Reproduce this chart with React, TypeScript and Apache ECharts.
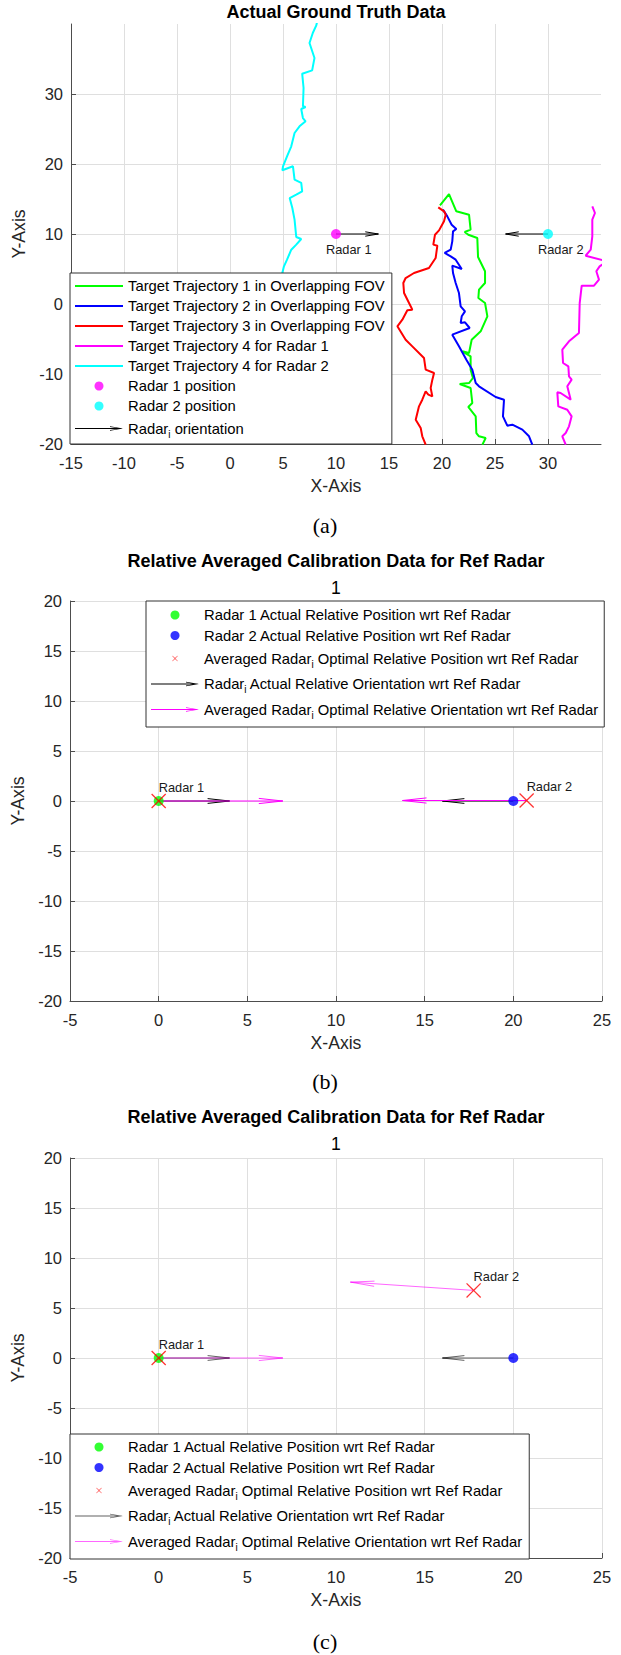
import React, { useEffect, useRef } from "react";
import * as echarts from "echarts";

const FONT = "'Liberation Sans', Arial, Helvetica, sans-serif";
const SERIF = "'Liberation Serif', 'Times New Roman', serif";
const AXIS_COLOR = "#4d4d4d";
const TEXT_COLOR = "#262626";
const GRID_COLOR = "#dfdfdf";

// ---------------- (a) Actual ground truth data ----------------
const trajectory1 = [
  [19.81, 14.1], [20.66, 15.71], [21.35, 13.24], [22.55, 12.76], [22.7, 10.62], [22.14, 10.29],
  [22.48, 9.9], [23.33, 9.43], [23.4, 6.71], [24.06, 4.67], [24.06, 3.0], [23.49, 2.05],
  [23.43, 0.86], [24.06, 0.14], [24.28, -1.76], [23.65, -3.9], [22.8, -5.1], [22.55, -7.0],
  [21.92, -6.76], [22.7, -7.48], [22.7, -9.38], [22.92, -10.57], [22.55, -11.29], [21.67, -11.43],
  [22.7, -12.0], [22.86, -14.14], [22.48, -14.71], [23.18, -16.05], [23.24, -18.43], [23.49, -18.9],
  [24.12, -19.14], [23.81, -20.1],
];
const trajectory2 = [
  [20.09, 13.48], [20.5, 12.52], [20.91, 11.33], [21.35, 10.71], [21.04, 10.38], [20.97, 8.95],
  [20.82, 7.76], [20.25, 7.29], [20.82, 6.81], [21.29, 6.33], [21.86, 5.0], [20.97, 5.48],
  [21.04, 4.43], [21.29, 3.0], [21.6, 1.57], [21.76, -0.33], [22.17, -1.05], [21.86, -1.76],
  [21.76, -2.71], [22.17, -2.62], [22.61, -3.43], [20.97, -4.38], [21.6, -6.05], [22.3, -7.95],
  [22.86, -9.38], [23.18, -11.29], [23.49, -11.76], [25.06, -13.29], [25.85, -13.67], [25.75, -16.05],
  [26.16, -17.38], [26.64, -17.24], [27.58, -17.95], [28.21, -18.9], [28.52, -20.1],
];
const trajectory3 = [
  [19.65, 13.81], [20.19, 13.24], [20.35, 12.76], [20.19, 11.81], [19.72, 10.52], [19.34, 9.9],
  [19.18, 8.48], [19.56, 8.33], [19.4, 6.57], [18.77, 5.14], [17.36, 4.43], [16.57, 3.71],
  [16.35, 3.0], [16.42, 1.57], [16.89, 0.14], [17.2, -0.81], [16.73, -0.9], [16.26, -2.24],
  [15.79, -3.19], [16.57, -5.1], [17.2, -6.05], [18.3, -7.71], [18.46, -9.38], [19.25, -9.86],
  [19.09, -10.81], [18.93, -12.0], [19.09, -13.19], [18.71, -12.95], [18.46, -12.48], [18.14, -13.67],
  [17.83, -14.62], [17.52, -16.52], [17.99, -17.71], [18.14, -18.9], [18.46, -20.1],
];
const trajectory4Radar1 = [
  [34.18, 13.95], [34.43, 13.0], [34.18, 12.05], [34.18, 9.67], [34.03, 7.76], [33.55, 6.9],
  [35.6, 6.1], [34.87, 5.38], [34.56, 4.67], [34.81, 3.48], [34.34, 2.62], [33.18, 2.62],
  [32.99, 0.14], [32.92, -4.14], [31.98, -5.33], [31.35, -6.52], [31.42, -8.43], [31.92, -8.9],
  [31.98, -10.33], [32.23, -10.81], [31.82, -11.76], [32.14, -13.67], [31.19, -12.71], [30.88, -12.62],
  [30.97, -14.62], [31.82, -15.1], [32.23, -16.05], [31.98, -17.48], [31.67, -18.43], [31.35, -18.9],
  [31.67, -20.1],
];
const trajectory4Radar2 = [
  [8.22, 40.3], [8.13, 39.76], [7.81, 38.71], [7.5, 37.29], [7.97, 35.14], [7.75, 33.38],
  [6.81, 32.9], [6.94, 30.86], [6.88, 28.24], [7.13, 28.14], [6.72, 27.86], [6.88, 26.57],
  [7.13, 26.1], [6.56, 25.38], [6.09, 24.43], [5.78, 22.52], [5.38, 21.1], [5.0, 19.67],
  [4.94, 19.1], [5.94, 19.67], [6.09, 17.76], [6.72, 17.29], [6.81, 16.1], [6.25, 15.62],
  [5.63, 15.14], [5.88, 13.71], [6.09, 12.05], [6.25, 9.57], [6.72, 9.29], [6.25, 8.48],
  [5.78, 7.76], [5.38, 6.33], [5.09, 5.38], [4.9, 4.2],
];
const radarPositions = [[10, 10], [30, 10]];
const radarHeadings = [0, 180];
const radarArrowLength = 4;
const radarLabels = ["Radar 1", "Radar 2"];

// ---------------- (b), (c) relative calibration data ----------------
const actualRelPositions = [[0, 0], [20, 0]];
const actualRelHeadings = [0, 180];
const actualArrowLength = 4;
const avgRelPositionsB = [[0, 0], [20.75, 0.05]];
const avgRelHeadingsB = [0, 180];
const avgRelPositionsC = [[0, 0], [17.76, 6.76]];
const avgRelHeadingsC = [0, 173.2];
const avgArrowLength = 7;

// axis ranges
const axisA = { xMin: -15, xMax: 35, xStep: 5, yMin: -20, yMax: 40, yStep: 10 };
const axisBC = { xMin: -5, xMax: 25, xStep: 5, yMin: -20, yMax: 20, yStep: 5 };

// legend names
const N = {
  t1: "Target Trajectory 1 in Overlapping FOV",
  t2: "Target Trajectory 2 in Overlapping FOV",
  t3: "Target Trajectory 3 in Overlapping FOV",
  t4r1: "Target Trajectory 4 for Radar 1",
  t4r2: "Target Trajectory 4 for Radar 2",
  r1pos: "Radar 1 position",
  r2pos: "Radar 2 position",
  orient: "Radar_i orientation",
  r1act: "Radar 1 Actual Relative Position wrt Ref Radar",
  r2act: "Radar 2 Actual Relative Position wrt Ref Radar",
  avgPos: "Averaged Radar_i Optimal Relative Position wrt Ref Radar",
  actOri: "Radar_i Actual Relative Orientation wrt Ref Radar",
  avgOri: "Averaged Radar_i Optimal Relative Orientation wrt Ref Radar",
};

const legendFormatter = (name: string) => {
  const idx = name.indexOf("Radar_i");
  if (idx < 0) return `{t|${name}}`;
  const a = name.slice(0, idx) + "Radar";
  const b = name.slice(idx + 7);
  return `{t|${a}}{s|i}{t|${b}}`;
};

const LINE_ICON = "path://M0,0 L48,0 L48,2 L0,2 Z";
const ARROW_ICON =
  "path://M0,4.6 L46.5,4.6 L46.5,5.4 L0,5.4 Z M35,2.7 L48,5 L35,7.3 L35,6.5 L45.2,5 L35,3.5 Z";
const X_SYMBOL =
  "path://M0,0.6 L0.6,0 L5,4.4 L9.4,0 L10,0.6 L5.6,5 L10,9.4 L9.4,10 L5,5.6 L0.6,10 L0,9.4 L4.4,5 Z";
const X_ICON =
  "path://M-3,-3 M13,13 M0,0.7 L0.7,0 L5,4.3 L9.3,0 L10,0.7 L5.7,5 L10,9.3 L9.3,10 L5,5.7 L0.7,10 L0,9.3 L4.3,5 Z";

function arrowData(pos: number[][], headings: number[], len: number) {
  return pos.map((p, i) => {
    const a = (headings[i] * Math.PI) / 180;
    return [p[0], p[1], p[0] + len * Math.cos(a), p[1] + len * Math.sin(a)];
  });
}

function arrowSeries(name: string, data: number[][], color: string, headMax: number, headHalf: number, z: number) {
  return {
    type: "custom",
    name,
    data,
    z,
    encode: { x: [0, 2], y: [1, 3] },
    itemStyle: { color },
    renderItem: (params: any, api: any) => {
      const p0 = api.coord([api.value(0), api.value(1)]);
      const p1 = api.coord([api.value(2), api.value(3)]);
      const dx = p1[0] - p0[0];
      const dy = p1[1] - p0[1];
      const L = Math.hypot(dx, dy) || 1;
      const ux = dx / L;
      const uy = dy / L;
      const hl = Math.min(0.31 * L, headMax);
      const bx = p1[0] - ux * hl;
      const by = p1[1] - uy * hl;
      const nx = -uy;
      const ny = ux;
      return {
        type: "group",
        children: [
          {
            type: "line",
            shape: { x1: p0[0], y1: p0[1], x2: p1[0], y2: p1[1] },
            style: { stroke: color, lineWidth: 1, fill: null },
          },
          {
            type: "polyline",
            shape: {
              points: [
                [bx + nx * headHalf, by + ny * headHalf],
                [p1[0], p1[1]],
                [bx - nx * headHalf, by - ny * headHalf],
              ],
            },
            style: { stroke: color, lineWidth: 1, fill: null },
          },
        ],
      };
    },
  };
}

function labelSeries(pos: number[][], dx: number, dy: number) {
  return {
    type: "custom",
    name: "labels",
    silent: true,
    z: 6,
    data: pos,
    renderItem: (params: any, api: any) => {
      const p = api.coord([api.value(0), api.value(1)]);
      return {
        type: "text",
        x: p[0] + dx,
        y: p[1] + dy,
        style: {
          text: radarLabels[params.dataIndex],
          fontSize: 12.8,
          fontFamily: FONT,
          fill: "#1a1a1a",
          align: "left",
          verticalAlign: "middle",
          textAlign: "left",
          textVerticalAlign: "middle",
        },
      };
    },
  };
}

function makeXAxis(min: number, max: number, interval: number, showMax: boolean) {
  return {
    type: "value",
    min,
    max,
    interval,
    name: "X-Axis",
    nameLocation: "middle",
    nameGap: 33,
    nameTextStyle: { fontSize: 17.6, color: TEXT_COLOR, fontFamily: FONT },
    axisLine: { show: true, onZero: false, lineStyle: { color: AXIS_COLOR, width: 1 } },
    axisTick: { show: true, inside: true, length: 5, lineStyle: { color: AXIS_COLOR } },
    axisLabel: { fontSize: 16.5, color: TEXT_COLOR, fontFamily: FONT, margin: 10, showMaxLabel: showMax, showMinLabel: true },
    splitLine: { show: true, showMaxLine: showMax, showMinLine: true, lineStyle: { color: GRID_COLOR, width: 1 } },
  };
}

function makeYAxis(min: number, max: number, interval: number, showMax: boolean) {
  return {
    type: "value",
    min,
    max,
    interval,
    name: "Y-Axis",
    nameLocation: "middle",
    nameGap: 37,
    nameTextStyle: { fontSize: 17.6, color: TEXT_COLOR, fontFamily: FONT },
    axisLine: { show: true, onZero: false, lineStyle: { color: AXIS_COLOR, width: 1 } },
    axisTick: { show: true, inside: true, length: 5, lineStyle: { color: AXIS_COLOR } },
    axisLabel: { fontSize: 16.5, color: TEXT_COLOR, fontFamily: FONT, margin: 8, showMaxLabel: showMax, showMinLabel: true },
    splitLine: { show: true, showMaxLine: showMax, showMinLine: true, lineStyle: { color: GRID_COLOR, width: 1 } },
  };
}

function legendBase(extra: any) {
  return {
    orient: "vertical",
    align: "left",
    itemWidth: 48,
    itemHeight: 9,
    selectedMode: false,
    backgroundColor: "#ffffff",
    borderColor: "#333333",
    borderWidth: 1,
    borderRadius: 0,
    formatter: legendFormatter,
    textStyle: {
      color: "#000",
      fontFamily: FONT,
      fontSize: 14.8,
      lineHeight: 16,
      rich: {
        t: { color: "#000", fontFamily: FONT, fontSize: 14.8, lineHeight: 16 },
        s: { color: "#000", fontFamily: FONT, fontSize: 10, lineHeight: 10, padding: [11, 0, 0, 0] },
      },
    },
    ...extra,
  };
}

function titleBlock(text: string, subtext: string, top: number) {
  return {
    text,
    subtext,
    left: 336,
    top,
    textAlign: "center",
    padding: 0,
    itemGap: 7,
    textStyle: { fontSize: 18, fontWeight: "bold", color: "#000", fontFamily: FONT, lineHeight: 20 },
    subtextStyle: { fontSize: 17.6, color: "#000", fontFamily: FONT, lineHeight: 20 },
  };
}

function caption(text: string, y: number) {
  return {
    type: "text",
    x: 325,
    y,
    style: {
      text,
      fontSize: 22,
      fontFamily: SERIF,
      fill: "#000",
      align: "center",
      verticalAlign: "middle",
      textAlign: "center",
      textVerticalAlign: "middle",
    },
  };
}

function lineSeries(name: string, data: number[][], color: string) {
  return {
    type: "line",
    name,
    data,
    symbol: "none",
    showSymbol: false,
    clip: true,
    z: 2,
    lineStyle: { color, width: 2 },
    itemStyle: { color },
  };
}

const optionA = {
  animation: false,
  backgroundColor: "#fff",
  title: titleBlock("Actual Ground Truth Data", "", 2),
  grid: { left: 71, top: 24, width: 530, height: 420, containLabel: false, outerBoundsMode: "none" },
  xAxis: makeXAxis(axisA.xMin, axisA.xMax, axisA.xStep, false),
  yAxis: makeYAxis(axisA.yMin, axisA.yMax, axisA.yStep, false),
  legend: legendBase({
    left: 70,
    top: 273,
    padding: [5, 7, 5, 5],
    itemGap: 4,
    data: [
      { name: N.t1, icon: LINE_ICON },
      { name: N.t2, icon: LINE_ICON },
      { name: N.t3, icon: LINE_ICON },
      { name: N.t4r1, icon: LINE_ICON },
      { name: N.t4r2, icon: LINE_ICON },
      { name: N.r1pos, icon: "circle" },
      { name: N.r2pos, icon: "circle" },
      { name: N.orient, icon: ARROW_ICON },
    ],
  }),
  graphic: [caption("(a)", 525)],
  series: [
    lineSeries(N.t1, trajectory1, "#00ff00"),
    lineSeries(N.t2, trajectory2, "#0000ff"),
    lineSeries(N.t3, trajectory3, "#ff0000"),
    lineSeries(N.t4r1, trajectory4Radar1, "#ff00ff"),
    lineSeries(N.t4r2, trajectory4Radar2, "#00ffff"),
    arrowSeries(N.orient, arrowData(radarPositions, radarHeadings, radarArrowLength), "#000000", 14, 2.2, 3),
    {
      type: "scatter",
      name: N.r1pos,
      data: [radarPositions[0]],
      symbol: "circle",
      symbolSize: 10,
      z: 4,
      itemStyle: { color: "#ff00ff" },
    },
    {
      type: "scatter",
      name: N.r2pos,
      data: [radarPositions[1]],
      symbol: "circle",
      symbolSize: 10,
      z: 4,
      itemStyle: { color: "#00ffff" },
    },
    labelSeries(radarPositions, -10, 15),
  ],
};

function relativeOption(
  titleTop: number,
  gridTop: number,
  legendPos: any,
  avgPos: number[][],
  avgHead: number[],
  blackColor: string,
  magentaColor: string,
  capText: string,
  capY: number
) {
  return {
    animation: false,
    backgroundColor: "#fff",
    title: titleBlock("Relative Averaged Calibration Data for Ref Radar", "1", titleTop),
    grid: { left: 70, top: gridTop, width: 532, height: 400, containLabel: false, outerBoundsMode: "none" },
    xAxis: makeXAxis(axisBC.xMin, axisBC.xMax, axisBC.xStep, true),
    yAxis: makeYAxis(axisBC.yMin, axisBC.yMax, axisBC.yStep, true),
    legend: legendBase({
      ...legendPos,
      itemGap: 4.5,
      data: [
        { name: N.r1act, icon: "circle" },
        { name: N.r2act, icon: "circle" },
        { name: N.avgPos, icon: X_ICON },
        { name: N.actOri, icon: ARROW_ICON },
        { name: N.avgOri, icon: ARROW_ICON },
      ],
    }),
    graphic: [caption(capText, capY)],
    series: [
      arrowSeries(N.actOri, arrowData(actualRelPositions, actualRelHeadings, actualArrowLength), blackColor, 22, 2.4, 2),
      arrowSeries(N.avgOri, arrowData(avgPos, avgHead, avgArrowLength), magentaColor, 24, 2.6, 2),
      {
        type: "scatter",
        name: N.r1act,
        data: [actualRelPositions[0]],
        symbol: "circle",
        symbolSize: 10,
        z: 3,
        itemStyle: { color: "#00ff00" },
      },
      {
        type: "scatter",
        name: N.r2act,
        data: [actualRelPositions[1]],
        symbol: "circle",
        symbolSize: 10,
        z: 3,
        itemStyle: { color: "#0000ff" },
      },
      {
        type: "scatter",
        name: N.avgPos,
        data: avgPos,
        symbol: X_SYMBOL,
        symbolSize: 15,
        z: 4,
        itemStyle: { color: "#ff0000" },
      },
      labelSeries(avgPos, 0, -14),
    ],
  };
}

const optionB = relativeOption(
  11,
  61,
  { left: 146, top: 61, padding: [6, 6, 7, 5] },
  avgRelPositionsB,
  avgRelHeadingsB,
  "#000000",
  "#ff00ff",
  "(b)",
  541
);

const optionC = relativeOption(
  7,
  58,
  { left: 70, top: 334, padding: [5, 7, 7, 5] },
  avgRelPositionsC,
  avgRelHeadingsC,
  "rgba(0,0,0,0.62)",
  "rgba(255,0,255,0.6)",
  "(c)",
  541
);

function Chart({ option, top, height }: { option: any; top: number; height: number }) {
  const ref = useRef<HTMLDivElement>(null);
  useEffect(() => {
    if (!ref.current) return;
    const chart = echarts.init(ref.current, null, { renderer: "svg" });
    chart.setOption(option);
    return () => chart.dispose();
  }, [option]);
  return <div ref={ref} style={{ position: "absolute", left: 0, top, width: 621, height }} />;
}

export default function App() {
  return (
    <div style={{ position: "absolute", left: 0, top: 0, width: 621, height: 1655, background: "#fff" }}>
      <Chart option={optionA} top={0} height={540} />
      <Chart option={optionB} top={540} height={560} />
      <Chart option={optionC} top={1100} height={555} />
    </div>
  );
}
